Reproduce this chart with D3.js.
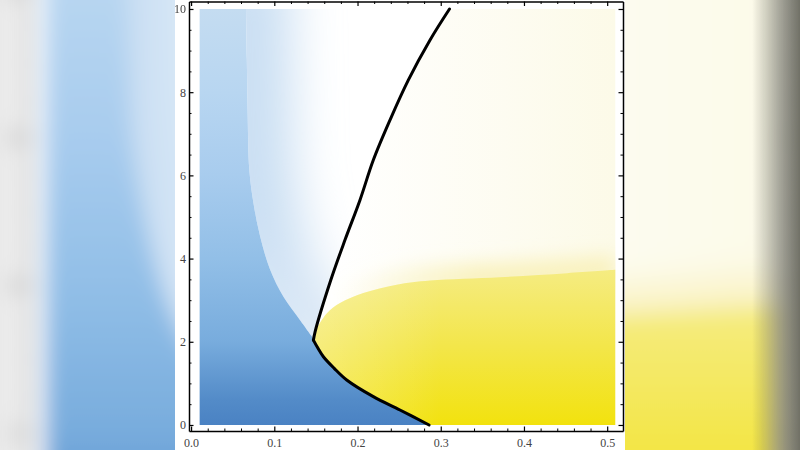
<!DOCTYPE html>
<html>
<head>
<meta charset="utf-8">
<script src="https://cdn.jsdelivr.net/npm/d3@7"></script>
<style>
  html, body { margin: 0; padding: 0; background: #fff; }
  svg { display: block; }
</style>
</head>
<body>
<div id="chart"></div>
<script>
const width = 800;
const height = 450;

// sampled range of the density plot
const xRange = [0.01, 0.51];
const yRange = [0, 10];

// tick labels
const xTicks = [0, 0.1, 0.2, 0.3, 0.4, 0.5];
const yTicks = [0, 2, 4, 6, 8, 10];

// black contour (x, y)
const lowerBranch = [[0.286, 0], [0.251, 0.36], [0.219, 0.68], [0.187, 1.08], [0.172, 1.36],
  [0.159, 1.64], [0.152, 1.86], [0.147, 2.04]];
const upperBranch = [[0.147, 2.04], [0.149, 2.24], [0.168, 3.49],
  [0.185, 4.45], [0.203, 5.41], [0.219, 6.37], [0.239, 7.33], [0.261, 8.29],
  [0.287, 9.25], [0.3105, 10]];

// edge of the saturated blue zone and of the yellow zone
const blueEdge = [[0.147, 2.08], [0.131, 2.52], [0.111, 3.08], [0.095, 3.73], [0.083, 4.53],
  [0.075, 5.33], [0.070, 6.13], [0.068, 7.5], [0.067, 8.8], [0.066, 10]];
const yellowEdge = [[0.151, 2.32], [0.163, 2.68], [0.179, 2.93], [0.207, 3.17], [0.247, 3.37],
  [0.287, 3.47], [0.371, 3.55], [0.452, 3.65], [0.51, 3.73]];

const svg = d3.select('#chart')
  .append('svg')
  .attr('width', width)
  .attr('height', height);

const x = d3.scaleLinear().domain([-0.0025, 0.519]).range([189, 623]);
const y = d3.scaleLinear().domain([-0.145, 10.18]).range([431, 1.5]);

const defs = svg.append('defs');

function gradient(id, x1, y1, x2, y2, stops) {
  const g = defs.append('linearGradient')
    .attr('id', id)
    .attr('gradientUnits', 'userSpaceOnUse')
    .attr('x1', x1).attr('y1', y1).attr('x2', x2).attr('y2', y2);
  stops.forEach(s => g.append('stop').attr('offset', s[0]).attr('stop-color', s[1]).attr('stop-opacity', s[2] == null ? 1 : s[2]));
}

gradient('blueFill', 0, y(0), 0, y(10), [
  [0, '#4a82c3'], [0.06, '#538bc8'], [0.2, '#78acdd'], [0.4, '#92bfe7'],
  [0.6, '#a8ccee'], [0.8, '#b8d6f1'], [1, '#c4dcf1']]);
gradient('yellowFill', 0, y(0), 0, y(3.8), [
  [0, '#f2e20e'], [0.5, '#f3e64a'], [1, '#f5ec84']]);
gradient('yellowSoft', x(0.15), 0, x(0.30), 0, [
  [0, '#ffffff', 0.28], [1, '#ffffff', 0]]);
gradient('creamFill', x(0.17), 0, x(0.51), 0, [
  [0, '#ffffff'], [1, '#fcfae8']]);
gradient('yellowGlow', x(0.17), 0, x(0.34), 0, [
  [0, '#f9f2c0', 0], [1, '#f9f2c0', 1]]);
gradient('paleGlow', 0, y(2), 0, y(5), [
  [0, '#dde9f6'], [1, '#cadff3']]);
gradient('edgeShade', 752, 0, 800, 0, [
  [0, '#5a5a4e', 0], [0.55, '#5a5a4e', 0.5], [1, '#5a5a4e', 0.85]]);
gradient('leftShade', 0, 0, 45, 0, [
  [0, '#000', 0.08], [1, '#000', 0]]);

function blur(id, sd, region) {
  defs.append('filter')
    .attr('id', id)
    .attr('filterUnits', 'userSpaceOnUse')
    .attr('x', region[0]).attr('y', region[1])
    .attr('width', region[2]).attr('height', region[3])
    .append('feGaussianBlur').attr('stdDeviation', sd);
}
blur('soft', 24, [0, -100, 800, 650]);
blur('softer', 9, [0, 0, 800, 450]);
blur('backdrop', 11, [-100, -300, 1000, 1050]);

defs.append('clipPath').attr('id', 'fieldClip')
  .append('rect')
  .attr('x', x(xRange[0])).attr('y', y(yRange[1]))
  .attr('width', x(xRange[1]) - x(xRange[0]))
  .attr('height', y(yRange[0]) - y(yRange[1]));

const seg = (pts, curve) => d3.line().x(d => x(d[0])).y(d => y(d[1])).curve(curve)(pts);
const joinPath = parts => parts.map((p, i) => i ? p.replace(/^M/, 'L') : p).join('') + 'Z';
const smooth = d3.curveCatmullRom.alpha(0.5);

const paleShape = joinPath([seg(blueEdge, smooth), seg(upperBranch.slice().reverse(), smooth)]);
defs.append('clipPath').attr('id', 'paleClip')
  .append('path').attr('d', paleShape);

// blurred, enlarged copy of the frame fills the sides
const k = width / 450;
svg.append('g')
  .attr('filter', 'url(#backdrop)')
  .append('use')
  .attr('href', '#frameImage')
  .attr('transform', `translate(400,225) scale(${k}) translate(-400,-225)`);
svg.append('rect')
  .attr('x', 740).attr('y', 0).attr('width', 60).attr('height', height)
  .attr('fill', 'url(#edgeShade)');
svg.append('rect')
  .attr('x', 0).attr('y', 0).attr('width', 45).attr('height', height)
  .attr('fill', 'url(#leftShade)');

const frame = svg.append('g').attr('id', 'frameImage');
frame.append('rect')
  .attr('x', 175).attr('y', 0).attr('width', 450).attr('height', 450)
  .attr('fill', '#fff');

const field = frame.append('g').attr('clip-path', 'url(#fieldClip)');

field.append('rect')
  .attr('x', x(xRange[0])).attr('y', y(yRange[1]))
  .attr('width', x(xRange[1]) - x(xRange[0]))
  .attr('height', y(yRange[0]) - y(yRange[1]))
  .attr('fill', 'url(#creamFill)');

field.append('path')
  .attr('d', seg(yellowEdge, smooth))
  .attr('fill', 'none')
  .attr('stroke', 'url(#yellowGlow)')
  .attr('stroke-width', 30)
  .attr('filter', 'url(#softer)');

const yellowLast = yellowEdge[yellowEdge.length - 1];
const yellowShape = joinPath([
  seg([[xRange[1], yellowLast[1]], [xRange[1], yRange[0]]], d3.curveLinear),
  seg(lowerBranch, smooth),
  seg(yellowEdge, smooth)]);
field.append('path').attr('d', yellowShape).attr('fill', 'url(#yellowFill)');
field.append('path').attr('d', yellowShape).attr('fill', 'url(#yellowSoft)');

field.append('path').attr('d', paleShape).attr('fill', '#fff');
field.append('g').attr('clip-path', 'url(#paleClip)')
  .append('path')
  .attr('d', seg(blueEdge, smooth))
  .attr('fill', 'none')
  .attr('stroke', 'url(#paleGlow)')
  .attr('stroke-width', 90)
  .attr('stroke-linecap', 'square')
  .attr('filter', 'url(#soft)');

const blueShape = joinPath([
  seg([[xRange[0], yRange[1]], [xRange[0], yRange[0]]], d3.curveLinear),
  seg(lowerBranch, smooth),
  seg(blueEdge, smooth)]);
field.append('path').attr('d', blueShape).attr('fill', 'url(#blueFill)');

[lowerBranch, upperBranch].forEach(branch => {
  frame.append('path')
    .attr('d', seg(branch, smooth))
    .attr('fill', 'none')
    .attr('stroke', '#000')
    .attr('stroke-width', 3)
    .attr('stroke-linejoin', 'round')
    .attr('stroke-linecap', 'round');
});

// frame axes, ticks pointing inward
const isMajor = (d, step) => Math.abs(d / step - Math.round(d / step)) < 1e-6;
const xMinor = x.ticks(25).filter(d => !isMajor(d, 0.1));
const yMinor = y.ticks(20).filter(d => !isMajor(d, 2));

function side(axisFn, pos, horizontal, labels) {
  const major = axisFn(horizontal ? x : y)
    .tickValues(horizontal ? xTicks : yTicks)
    .tickSizeInner(-4.5).tickSizeOuter(0);
  if (labels) {
    major.tickPadding(horizontal ? 7 : 3).tickFormat(horizontal ? d3.format('.1f') : d3.format('d'));
  } else {
    major.tickFormat('');
  }
  const g = frame.append('g')
    .attr('transform', horizontal ? `translate(0,${pos})` : `translate(${pos},0)`)
    .call(major)
    .attr('font-family', null).attr('font-size', null);
  g.select('.domain').attr('stroke', '#000').attr('stroke-width', 1.5);
  g.selectAll('.tick line').attr('stroke', '#000').attr('stroke-width', 1.2);
  g.selectAll('.tick text')
    .attr('fill', '#444')
    .style('font-family', '"Liberation Serif", "DejaVu Serif", serif')
    .style('font-size', '12px');

  const minor = axisFn(horizontal ? x : y)
    .tickValues(horizontal ? xMinor : yMinor)
    .tickSizeInner(-2.5).tickSizeOuter(0).tickFormat('');
  const gm = frame.append('g')
    .attr('transform', horizontal ? `translate(0,${pos})` : `translate(${pos},0)`)
    .call(minor);
  gm.select('.domain').remove();
  gm.selectAll('.tick line').attr('stroke', '#000').attr('stroke-width', 1);
}

side(d3.axisBottom, y.range()[0], true, true);
side(d3.axisTop, y.range()[1], true, false);
side(d3.axisLeft, x.range()[0], false, true);
side(d3.axisRight, x.range()[1], false, false);
</script>
</body>
</html>
